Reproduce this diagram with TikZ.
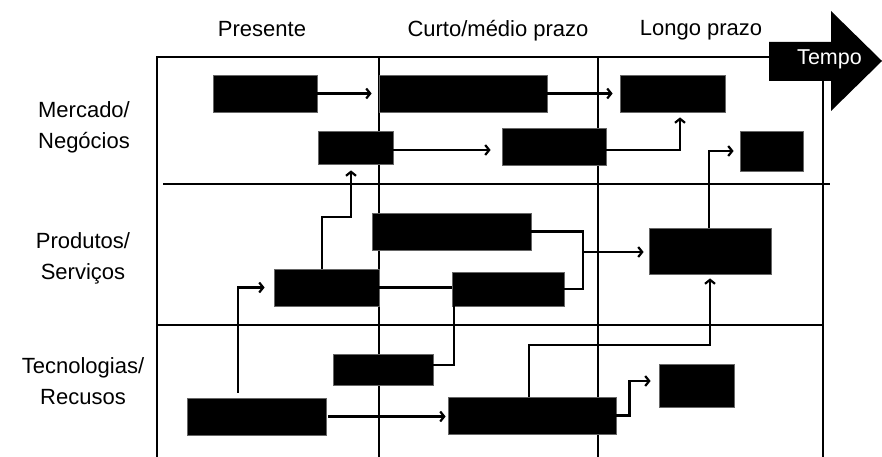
\documentclass[tikz,border=0pt]{standalone}
\usepackage{fontspec}
\setmainfont{Liberation Sans}
\usetikzlibrary{arrows.meta}

\begin{document}
\begin{tikzpicture}[x=1pt, y=-1pt,
  bar/.style 2 args={draw=black!60, fill=black, line width=0.8pt, inner sep=0pt,
    minimum width=#1pt, minimum height=#2pt},
  grid/.style={line width=2.2pt},
  link/.style={line width=2.2pt},
  conn/.style={link, -{Straight Barb[length=4pt, width=10pt]}},
  lbl/.style={anchor=base, font=\fontsize{22}{26}\selectfont}
]
  \useasboundingbox (0,0) rectangle (882,457);

  % Table lines
  \draw[grid] (157,457) -- (157,57) -- (770,57);
  \draw[grid] (379,57) -- (379,457);
  \draw[grid] (598,57) -- (598,457);
  \draw[grid] (823,57) -- (823,457);
  \draw[grid] (163,184) -- (830,184);
  \draw[grid] (157,325) -- (823,325);

  % Time arrow
  \fill (769,42) -- (831,42) -- (831,11) -- (882,61) -- (831,111) -- (831,81) -- (769,81) -- cycle;
  \node[lbl, text=white, font=\fontsize{21.5}{25}\selectfont] (tempo) at (829.5,65) {Tempo};

  % Column headings
  \node[lbl] (now) at (262,37) {Presente};
  \node[lbl] (mid) at (498,37) {Curto/médio prazo};
  \node[lbl] (late) at (701,36) {Longo prazo};

  % Row headings
  \node[lbl] (mkt1) at (84,118) {Mercado/};
  \node[lbl] (mkt2) at (84,149) {Negócios};
  \node[lbl] (prd1) at (83,248) {Produtos/};
  \node[lbl] (prd2) at (83,279) {Serviços};
  \node[lbl] (tec1) at (83,373) {Tecnologias/};
  \node[lbl] (tec2) at (83,404) {Recusos};

  % Mercado / Negocios
  \node[bar={104}{37}] (m1) at (265,93.5) {};
  \node[bar={168}{37}] (m2) at (463,93.5) {};
  \node[bar={105}{37}] (m3) at (672.5,93.5) {};
  \node[bar={75}{33}] (m4) at (355.5,147.5) {};
  \node[bar={104}{37}] (m5) at (554,146.5) {};
  \node[bar={63}{40}] (m6) at (771.5,151) {};

  % Produtos / Servicos
  \node[bar={159}{37}] (p1) at (451.5,231.5) {};
  \node[bar={105}{37}] (p2) at (326.5,287.5) {};
  \node[bar={122}{46}] (p3) at (710,251) {};
  \node[bar={112}{34}] (p4) at (508,289) {};

  % Tecnologias / Recursos
  \node[bar={139}{37}] (t1) at (256.5,416.5) {};
  \node[bar={100}{31}] (t2) at (383,369.5) {};
  \node[bar={168}{37}] (t3) at (532,415.5) {};
  \node[bar={75}{43}] (t4) at (696.5,385.5) {};

  \coordinate (jn) at (583,252);

  % Links
  \draw[conn, shorten >=7pt] (m1.east) -- (m1.east -| m2.west);
  \draw[conn, shorten >=7pt] (m2.east) -- (m2.east -| m3.west);
  \draw[conn, shorten >=11pt] ([yshift=-2.5pt]m4.east) -- ([yshift=-2.5pt]m4.east -| m5.west);
  \draw[conn, shorten >=5pt] ([yshift=-3.5pt]m5.east) -| ([xshift=7.5pt]m3.south);
  \draw[conn, shorten >=6pt] ([xshift=-1pt]p3.north) |- (m6.west);
  \draw[conn, shorten >=6pt] ([xshift=-4.5pt]p2.north) -- ++(0,-52) -| ([xshift=-4.5pt]m4.south);
  \draw[link] (p1.east) -| (jn) |- (p4.east);
  \draw[conn, shorten >=5pt] (jn) -- (jn -| p3.west);
  \draw[link] (p2.east) -- (p2.east -| p4.west);
  \draw[conn, shorten <=5pt, shorten >=9pt] ([xshift=-18.5pt]t1.north) |- (p2.west);
  \draw[conn, shorten <=2pt, shorten >=2pt] (t1.east) -- (t1.east -| t3.west);
  \draw[conn, shorten >=8pt] (t3.east) -- ++(13,0) |- ([yshift=4.5pt]t4.west);
  \draw[conn, shorten >=4pt] ([xshift=-3pt]t3.north) -- ++(0,-52) -| (p3.south);
  \draw[link] ([yshift=4.5pt]t2.east) -| ([xshift=-54pt]p4.south);

\end{tikzpicture}
\end{document}
